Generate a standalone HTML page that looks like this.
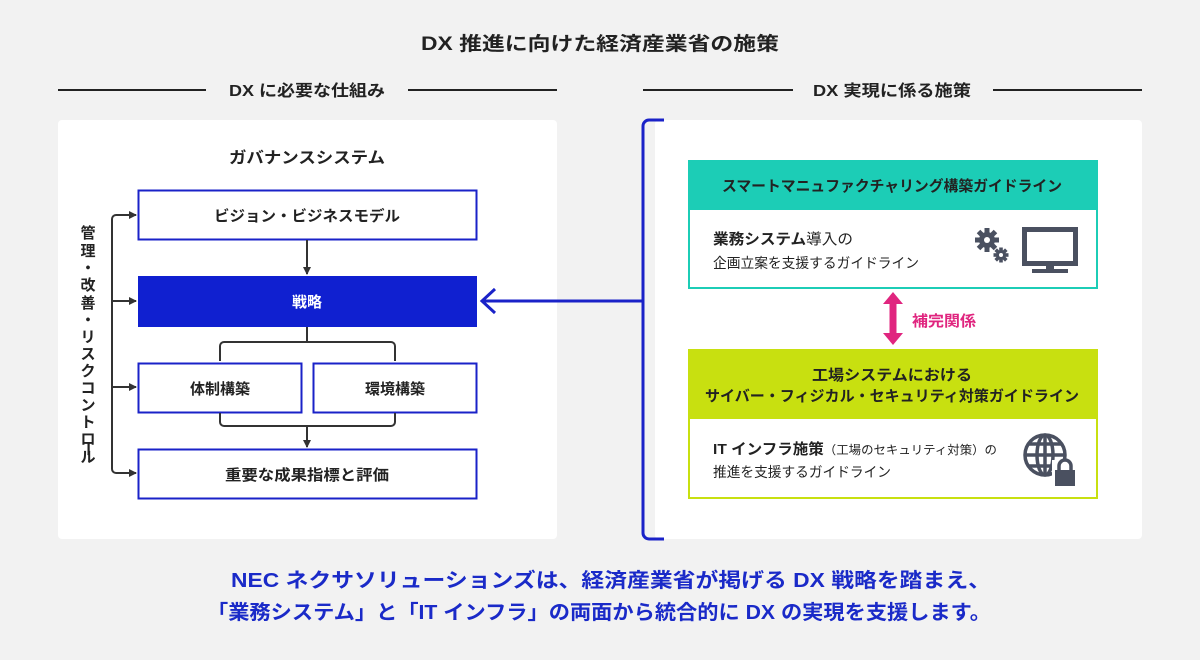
<!DOCTYPE html>
<html><head><meta charset="utf-8"><style>
html,body{margin:0;padding:0;background:#f2f2f2;}
svg{display:block;}
text{font-family:"Liberation Sans","Noto Sans CJK JP",sans-serif;font-weight:bold;fill:#222;}
</style></head><body>
<svg width="1200" height="660" viewBox="0 0 1200 660" xmlns="http://www.w3.org/2000/svg">
<defs>
<marker id="ah" markerWidth="8" markerHeight="8" refX="7" refY="4" orient="auto" markerUnits="userSpaceOnUse">
<path d="M0,0 L8,4 L0,8 Z" fill="#333"/>
</marker>
</defs>
<rect width="1200" height="660" fill="#f2f2f2"/>
<text x="600" y="50" font-size="19" text-anchor="middle" textLength="358" lengthAdjust="spacingAndGlyphs">DX 推進に向けた経済産業省の施策</text>
<!-- section headers -->
<line x1="58" y1="90" x2="206" y2="90" stroke="#222" stroke-width="2"/>
<line x1="408" y1="90" x2="557" y2="90" stroke="#222" stroke-width="2"/>
<text x="307" y="96" font-size="16" text-anchor="middle" textLength="156" lengthAdjust="spacingAndGlyphs">DX に必要な仕組み</text>
<line x1="643" y1="90" x2="793" y2="90" stroke="#222" stroke-width="2"/>
<line x1="993" y1="90" x2="1142" y2="90" stroke="#222" stroke-width="2"/>
<text x="892" y="96" font-size="16" text-anchor="middle" textLength="158" lengthAdjust="spacingAndGlyphs">DX 実現に係る施策</text>
<!-- panels -->
<rect x="58" y="120" width="499" height="419" rx="4" fill="#fff"/>
<rect x="655" y="120" width="487" height="419" rx="4" fill="#fff"/>
<!-- left -->
<text x="307" y="163" font-size="16" text-anchor="middle" textLength="156" lengthAdjust="spacingAndGlyphs">ガバナンスシステム</text>
<rect x="138.5" y="190.5" width="338" height="49" fill="#fff" stroke="#1a22c8" stroke-width="2"/>
<text x="307" y="221" font-size="15" text-anchor="middle" textLength="186" lengthAdjust="spacingAndGlyphs">ビジョン・ビジネスモデル</text>
<rect x="138" y="276" width="339" height="51" fill="#1020d0"/>
<text x="307" y="307" font-size="15" text-anchor="middle" style="fill:#fff">戦略</text>
<rect x="138.5" y="363.5" width="163" height="49" fill="#fff" stroke="#1a22c8" stroke-width="2"/>
<text x="220" y="394" font-size="15" text-anchor="middle">体制構築</text>
<rect x="313.5" y="363.5" width="163" height="49" fill="#fff" stroke="#1a22c8" stroke-width="2"/>
<text x="395" y="394" font-size="15" text-anchor="middle">環境構築</text>
<rect x="138.5" y="449.5" width="338" height="49" fill="#fff" stroke="#1a22c8" stroke-width="2"/>
<text x="307" y="480" font-size="15" text-anchor="middle" textLength="164" lengthAdjust="spacingAndGlyphs">重要な成果指標と評価</text>
<g fill="none" stroke="#333" stroke-width="2">
<line x1="307" y1="240" x2="307" y2="274" marker-end="url(#ah)"/>
<line x1="307" y1="327" x2="307" y2="342"/>
<path d="M220,361 V346 a4,4 0 0 1 4,-4 H391 a4,4 0 0 1 4,4 V361" />
<path d="M220,413 V422 a4,4 0 0 0 4,4 H391 a4,4 0 0 0 4,-4 V413"/>
<line x1="307" y1="426" x2="307" y2="447" marker-end="url(#ah)"/>
<path d="M136,215 H116 a4,4 0 0 0 -4,4 V469 a4,4 0 0 0 4,4 H136" marker-end="url(#ah)"/>
<line x1="116" y1="215" x2="136" y2="215" marker-end="url(#ah)"/>
<line x1="112" y1="301" x2="136" y2="301" marker-end="url(#ah)"/>
<line x1="112" y1="387" x2="136" y2="387" marker-end="url(#ah)"/>
</g>
<g font-size="15">
<text x="88" y="238" text-anchor="middle">管</text>
<text x="88" y="256" text-anchor="middle">理</text>
<text x="88" y="273" text-anchor="middle">・</text>
<text x="88" y="290" text-anchor="middle">改</text>
<text x="88" y="308" text-anchor="middle">善</text>
<text x="88" y="325" text-anchor="middle">・</text>
<text x="88" y="342" text-anchor="middle">リ</text>
<text x="88" y="359" text-anchor="middle">ス</text>
<text x="88" y="376" text-anchor="middle">ク</text>
<text x="88" y="393" text-anchor="middle">コ</text>
<text x="88" y="410" text-anchor="middle">ン</text>
<text x="88" y="427" text-anchor="middle">ト</text>
<text x="88" y="444" text-anchor="middle">ロ</text>
<text x="88" y="454" text-anchor="middle" transform="rotate(90 88 449)">ー</text>
<text x="88" y="462" text-anchor="middle">ル</text>
</g>
<!-- blue bracket & arrow -->
<path d="M664,120 H649 a6,6 0 0 0 -6,6 V533 a6,6 0 0 0 6,6 H664" fill="none" stroke="#1a22c8" stroke-width="3"/>
<line x1="643" y1="301" x2="482" y2="301" stroke="#1a22c8" stroke-width="3"/>
<path d="M495,289 L482,301 L495,313" fill="none" stroke="#1a22c8" stroke-width="3"/>
<!-- right: teal -->
<rect x="688" y="160" width="410" height="50" fill="#1ccdb6"/>
<rect x="689" y="209" width="408" height="79" fill="#fff" stroke="#1ccdb6" stroke-width="2"/>
<text x="892" y="191" font-size="15" text-anchor="middle" textLength="340" lengthAdjust="spacingAndGlyphs">スマートマニュファクチャリング構築ガイドライン</text>
<text x="713" y="244" font-size="15" textLength="140" lengthAdjust="spacingAndGlyphs">業務システム<tspan font-weight="normal">導入の</tspan></text>
<text x="713" y="268" font-size="14" font-weight="normal" style="font-weight:normal" textLength="206" lengthAdjust="spacingAndGlyphs">企画立案を支援するガイドライン</text>
<!-- gears -->
<g fill="#4a5060">
<circle cx="987" cy="240" r="8"/>
<g transform="translate(987 240)">
<rect x="-2.5" y="-12" width="5" height="24"/><rect x="-2.5" y="-12" width="5" height="24" transform="rotate(45)"/><rect x="-2.5" y="-12" width="5" height="24" transform="rotate(90)"/><rect x="-2.5" y="-12" width="5" height="24" transform="rotate(135)"/>
</g>
<circle cx="1001" cy="255" r="5"/>
<g transform="translate(1001 255)">
<rect x="-1.8" y="-7.5" width="3.6" height="15"/><rect x="-1.8" y="-7.5" width="3.6" height="15" transform="rotate(45)"/><rect x="-1.8" y="-7.5" width="3.6" height="15" transform="rotate(90)"/><rect x="-1.8" y="-7.5" width="3.6" height="15" transform="rotate(135)"/>
</g>
</g>
<circle cx="987" cy="240" r="3" fill="#fff"/>
<circle cx="1001" cy="255" r="2" fill="#fff"/>
<rect x="1024.5" y="229.5" width="51" height="34" fill="none" stroke="#4a5060" stroke-width="5"/>
<rect x="1046" y="264" width="8" height="5" fill="#4a5060"/>
<rect x="1032" y="269" width="36" height="4" fill="#4a5060"/>
<!-- pink arrow -->
<path d="M893,292 L903,304 H896.5 V333 H903 L893,345 L883,333 H889.5 V304 H883 Z" fill="#e0257f"/>
<text x="912" y="326" font-size="15" style="fill:#e0257f" textLength="64" lengthAdjust="spacingAndGlyphs">補完関係</text>
<!-- lime -->
<rect x="688" y="349" width="410" height="70" fill="#c8e010"/>
<rect x="689" y="418" width="408" height="80" fill="#fff" stroke="#c8e010" stroke-width="2"/>
<text x="892" y="380" font-size="15" text-anchor="middle" textLength="160" lengthAdjust="spacingAndGlyphs">工場システムにおける</text>
<text x="892" y="401" font-size="15" text-anchor="middle" textLength="374" lengthAdjust="spacingAndGlyphs">サイバー・フィジカル・セキュリティ対策ガイドライン</text>
<text x="713" y="454" font-size="15" textLength="284" lengthAdjust="spacingAndGlyphs">IT インフラ施策<tspan font-size="12" font-weight="normal">（工場のセキュリティ対策）の</tspan></text>
<text x="713" y="477" font-size="14" style="font-weight:normal" textLength="178" lengthAdjust="spacingAndGlyphs">推進を支援するガイドライン</text>
<!-- globe -->
<g fill="none" stroke="#4a5060" stroke-width="3.5">
<circle cx="1045" cy="455" r="20"/>
<ellipse cx="1045" cy="455" rx="8" ry="20"/>
<line x1="1025" y1="455" x2="1065" y2="455"/>
<path d="M1028,444 H1062 M1028,466 H1062"/>
<line x1="1045" y1="435" x2="1045" y2="475"/>
</g>
<rect x="1052" y="460" width="26" height="28" fill="#fff"/>
<path d="M1059,471 v-5 a6,6 0 0 1 12,0 v5" fill="none" stroke="#4a5060" stroke-width="3.5"/>
<rect x="1055" y="470" width="20" height="16" fill="#4a5060"/>
<!-- bottom -->
<text x="611" y="587" font-size="20" text-anchor="middle" style="fill:#1a2ac8" textLength="760" lengthAdjust="spacingAndGlyphs">NEC ネクサソリューションズは、経済産業省が掲げる DX 戦略を踏まえ、</text>
<text x="599" y="619" font-size="20" text-anchor="middle" style="fill:#1a2ac8" textLength="784" lengthAdjust="spacingAndGlyphs">「業務システム」と「IT インフラ」の両面から統合的に DX の実現を支援します。</text>
</svg>
</body></html>
